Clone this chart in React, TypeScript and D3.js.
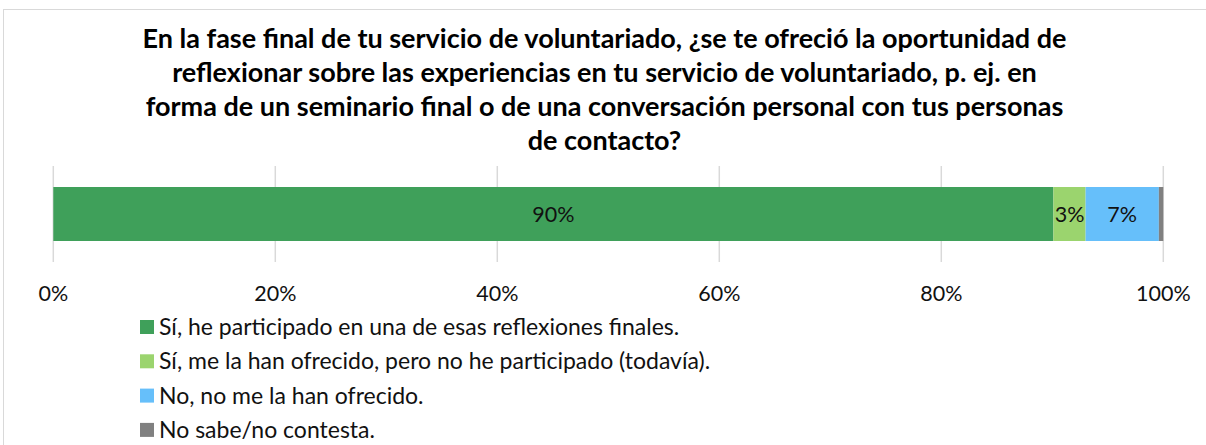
import React from "react";
import * as d3 from "d3";

const width = 1206;
const height = 445;

// survey answers, share of respondents in %
const categories = [
  "Sí, he participado en una de esas reflexiones finales.",
  "Sí, me la han ofrecido, pero no he participado (todavía).",
  "No, no me la han ofrecido.",
  "No sabe/no contesta."
];
const values = [90.1, 2.9, 6.6, 0.4];
const colors = ["#3fa05a", "#9bd46e", "#66bffa", "#808080"];
const ticks = [0, 20, 40, 60, 80, 100];

const titleLines = [
  "En la fase final de tu servicio de voluntariado, ¿se te ofreció la oportunidad de",
  "reflexionar sobre las experiencias en tu servicio de voluntariado, p. ej. en",
  "forma de un seminario final o de una conversación personal con tus personas",
  "de contacto?"
];

const font = "Lato, 'Open Sans', sans-serif";

export default function App() {
  const x = d3.scaleLinear().domain([0, 100]).range([53.3, 1163.3]);
  const barTop = 187;
  const barH = 54;

  const stack = values.map((v, i) => {
    const start = d3.sum(values.slice(0, i));
    return { v, start, end: start + v, color: colors[i] };
  });

  const fmt = d3.format(".0f");

  return (
    <>
      <style>{`body{margin:0}`}</style>
      <svg width={width} height={height} style={{ display: "block", fontFamily: font }}>
        <rect width={width} height={height} fill="#fff" />
        <rect x={3.5} y={9.5} width={1220} height={460} fill="none" stroke="#d9d9d9" />

        {titleLines.map((t, i) => (
          <text
            key={i}
            x={604.5}
            y={48 + i * 34}
            textAnchor="middle"
            fontSize={27}
            fontWeight="bold"
            fill="#000"
          >
            {t}
          </text>
        ))}

        {ticks.map(t => (
          <line key={t} x1={x(t)} x2={x(t)} y1={166} y2={262} stroke="#d9d9d9" strokeWidth={1.5} />
        ))}

        {stack.map((d, i) => (
          <rect
            key={i}
            x={x(d.start)}
            y={barTop}
            width={x(d.end) - x(d.start)}
            height={barH}
            fill={d.color}
          />
        ))}

        {stack
          .filter(d => d.v >= 1)
          .map((d, i) => (
            <text
              key={i}
              x={(x(d.start) + x(d.end)) / 2}
              y={barTop + barH / 2 + 8}
              textAnchor="middle"
              fontSize={21.5}
              fill="#111"
            >
              {fmt(d.v)}%
            </text>
          ))}

        {ticks.map(t => (
          <text key={t} x={x(t)} y={301} textAnchor="middle" fontSize={21.5} fill="#111">
            {t}%
          </text>
        ))}

        {categories.map((c, i) => (
          <g key={i} transform={`translate(140, ${320 + i * 34.3})`}>
            <rect width={14} height={14} fill={colors[i]} />
            <text x={19} y={15} fontSize={23} fill="#111">
              {c}
            </text>
          </g>
        ))}
      </svg>
    </>
  );
}
